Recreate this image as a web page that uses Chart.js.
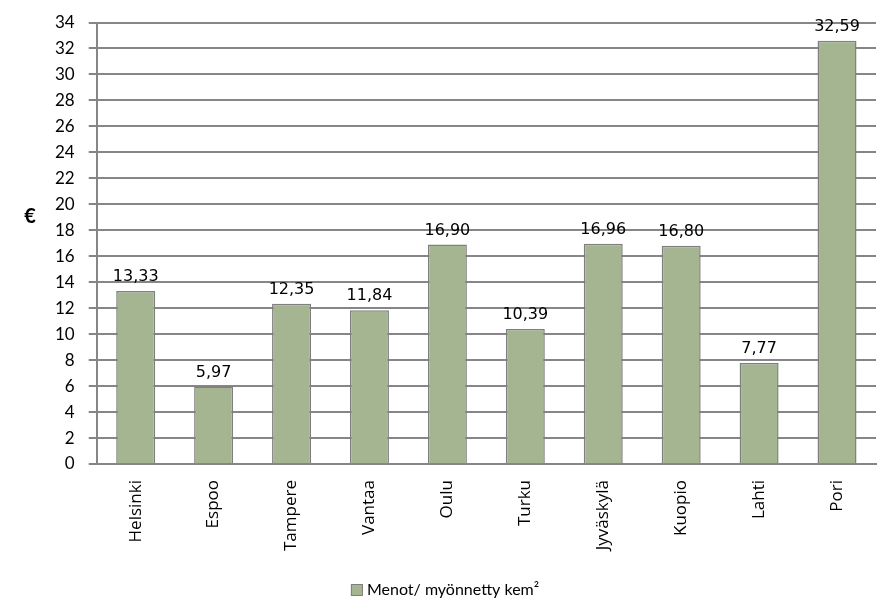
<!DOCTYPE html>
<html>
<head>
<meta charset="utf-8">
<script src="https://cdn.jsdelivr.net/npm/chart.js@4/dist/chart.umd.min.js"></script>
<style>
  html, body { margin: 0; padding: 0; background: #fff; }
  #wrap { width: 890px; height: 600px; position: relative; }
</style>
</head>
<body>
<div id="wrap"><canvas id="chart"></canvas></div>
<script>
const cities = ['Helsinki', 'Espoo', 'Tampere', 'Vantaa', 'Oulu', 'Turku', 'Jyväskylä', 'Kuopio', 'Lahti', 'Pori'];
const costs = [13.33, 5.97, 12.35, 11.84, 16.90, 10.39, 16.96, 16.80, 7.77, 32.59];
const seriesName = 'Menot/ myönnetty kem²';
const yTitle = '€';

const barFill = '#a5b592';
const barEdge = '#7f7f7f';

const fmt = (v) => v.toFixed(2).replace('.', ',');

// value labels above bars, upright "€" axis title and the legend at the bottom
const extras = {
  id: 'extras',
  afterDatasetsDraw(chart) {
    const { ctx, chartArea, width } = chart;
    const meta = chart.getDatasetMeta(0);
    ctx.save();
    ctx.font = '16px "DejaVu Sans", sans-serif';
    ctx.fillStyle = '#000';
    ctx.textAlign = 'center';
    ctx.textBaseline = 'bottom';
    meta.data.forEach((bar, i) => {
      ctx.fillText(fmt(costs[i]), bar.x, bar.y - 6);
    });
    ctx.font = 'bold 20px Lato, sans-serif';
    ctx.textBaseline = 'middle';
    ctx.fillText(yTitle, 30, chartArea.top + (chartArea.bottom - chartArea.top) * 0.44);

    // legend, centred on the whole canvas
    ctx.font = '16px Lato, sans-serif';
    const tw = ctx.measureText(seriesName).width;
    const total = 12 + 4 + tw;
    const lx = width / 2 - total / 2;
    const ly = 590;
    ctx.fillStyle = barFill;
    ctx.fillRect(lx, ly - 6, 12, 12);
    ctx.strokeStyle = barEdge;
    ctx.lineWidth = 1;
    ctx.strokeRect(lx + 0.5, ly - 5.5, 11, 11);
    ctx.fillStyle = '#000';
    ctx.textAlign = 'left';
    ctx.fillText(seriesName, lx + 16, ly);
    ctx.restore();
  }
};

new Chart(document.getElementById('chart'), {
  type: 'bar',
  data: {
    labels: cities,
    datasets: [{
      label: seriesName,
      data: costs,
      backgroundColor: barFill,
      borderColor: barEdge,
      borderWidth: 1.5,
      barPercentage: 0.5,
      categoryPercentage: 1
    }]
  },
  options: {
    responsive: true,
    maintainAspectRatio: false,
    animation: false,
    layout: { padding: { top: 18, right: 14, left: 41, bottom: 33 } },
    plugins: {
      tooltip: { enabled: false },
      legend: { display: false }
    },
    scales: {
      x: {
        grid: { display: false, drawTicks: false },
        border: { color: '#868686', width: 2 },
        ticks: {
          color: '#000',
          font: { family: '"Open Sans", sans-serif', size: 17 },
          maxRotation: 90,
          minRotation: 90,
          padding: 16
        }
      },
      y: {
        min: 0,
        max: 34,
        ticks: {
          stepSize: 2,
          color: '#000',
          font: { family: 'Lato, sans-serif', size: 17, lineHeight: 1 },
          padding: 14
        },
        grid: { color: '#868686', lineWidth: 2, tickLength: 8 },
        border: { color: '#868686', width: 2 }
      }
    }
  },
  plugins: [extras]
});
</script>
</body>
</html>
